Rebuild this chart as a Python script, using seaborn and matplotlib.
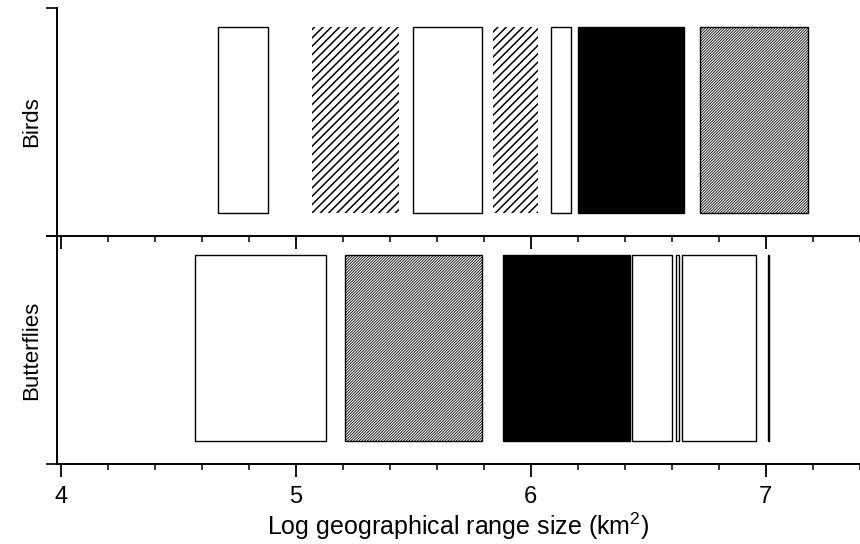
import matplotlib
matplotlib.use("Agg")
import matplotlib.pyplot as plt
import seaborn as sns
from matplotlib.ticker import MultipleLocator, NullFormatter

# ---- data (log10 geographical range size, km^2) ----
bird_start = [4.67, 5.07, 5.50, 5.84, 6.085, 6.20, 6.72]
bird_end   = [4.88, 5.44, 5.79, 6.03, 6.17, 6.65, 7.18]
bird_fill  = ["white", "sparse", "white", "sparse", "white", "black", "dense"]

fly_start = [4.57, 5.21, 5.88, 6.43, 6.617, 6.645, 7.011]
fly_end   = [5.13, 5.79, 6.42, 6.60, 6.630, 6.96, 7.015]
fly_fill  = ["white", "dense", "black", "white", "white", "white", "white"]

panels = ["Birds", "Butterflies"]
xticks = [4, 5, 6, 7]
xlabel = "Log geographical range size (km$^2$)"

sns.set_style("ticks", {"axes.edgecolor": "black", "text.color": "black",
                        "xtick.color": "black", "ytick.color": "black",
                        "axes.labelcolor": "black"})
plt.rcParams["font.family"] = ["Liberation Sans", "DejaVu Sans"]
plt.rcParams["mathtext.fontset"] = "custom"
plt.rcParams["mathtext.rm"] = "Liberation Sans"

STYLE = {
    "white":  dict(fc="white", ec="black", lw=1.0, hatch=None, hlw=1.0),
    "sparse": dict(fc="white", ec="black", lw=0.0, hatch="////", hlw=1.1),
    "black":  dict(fc="black", ec="black", lw=1.0, hatch=None, hlw=1.0),
    "dense":  dict(fc="white", ec="black", lw=1.0, hatch="////////////", hlw=0.6),
}

fig = plt.figure(figsize=(8.6, 5.44), dpi=100)
W, H = 860, 544
ax1 = fig.add_axes([57 / W, (H - 236) / H, 803 / W, 228 / H])
ax2 = fig.add_axes([57 / W, (H - 464) / H, 803 / W, 228 / H], sharex=ax1)
ax2.set_facecolor("none")

y0, y1 = 0.10, 0.915
for ax, starts, ends, fills, name in [
    (ax1, bird_start, bird_end, bird_fill, panels[0]),
    (ax2, fly_start, fly_end, fly_fill, panels[1]),
]:
    for s, e, f in zip(starts, ends, fills):
        st = STYLE[f]
        if st["hatch"]:
            plt.rcParams["hatch.linewidth"] = st["hlw"]
        bars = ax.bar(s, y1 - y0, width=e - s, bottom=y0, align="edge",
                      facecolor=st["fc"], edgecolor=st["ec"], linewidth=st["lw"],
                      hatch=st["hatch"])
        for p in bars:
            if st["hatch"] and hasattr(p, "set_hatch_linewidth"):
                p.set_hatch_linewidth(st["hlw"])
    ax.set_ylim(0, 1)
    ax.set_yticks([0, 1])
    ax.yaxis.set_major_formatter(NullFormatter())
    ax.set_ylabel(name, fontsize=16)
    ax.yaxis.set_label_coords(-0.019, 0.5)
    sns.despine(ax=ax, top=True, right=True)
    for sp in ["left", "bottom"]:
        ax.spines[sp].set_linewidth(1.4)
    ax.tick_params(axis="y", direction="out", length=8, width=1.2)
    ax.tick_params(axis="x", which="major", direction="out", length=9, width=1.3,
                   labelsize=17, pad=7)
    ax.tick_params(axis="x", which="minor", direction="out", length=4.5, width=1.1)

ax1.set_xlim(3.983, 7.401)
ax1.xaxis.set_major_locator(MultipleLocator(1))
ax1.xaxis.set_minor_locator(MultipleLocator(0.2))
ax1.set_xticks(xticks)
ax1.tick_params(axis="x", labelbottom=False)
ax2.set_xlabel(xlabel, fontsize=18, labelpad=2)

fig.savefig("out.png", dpi=100)
